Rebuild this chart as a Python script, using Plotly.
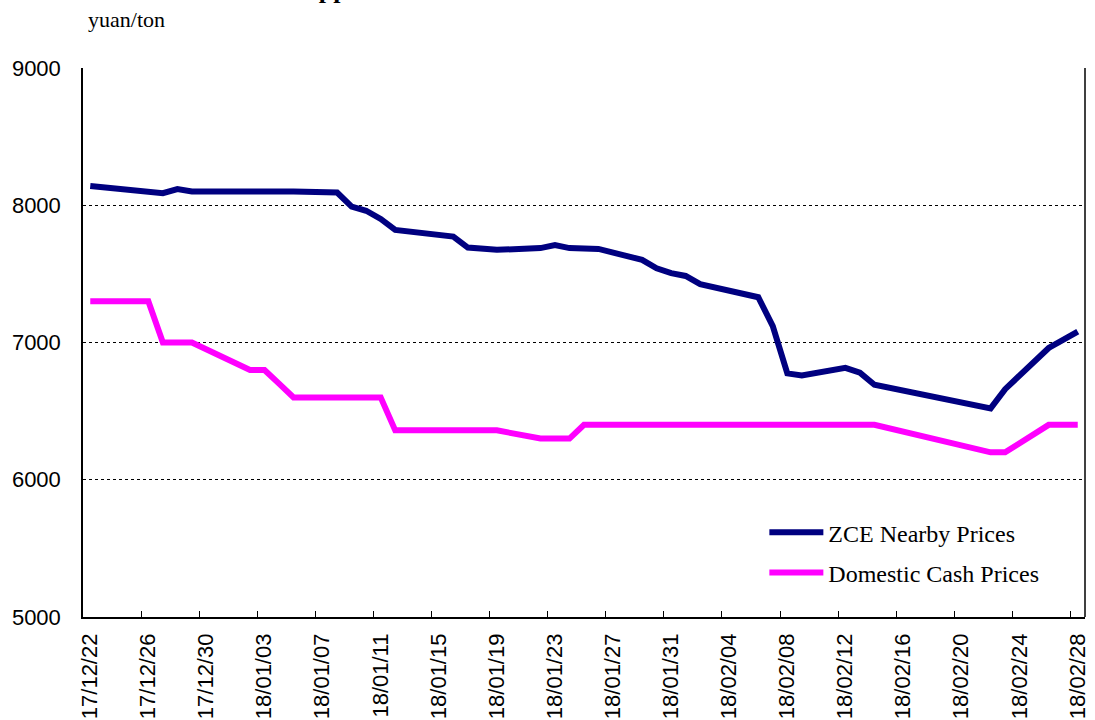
import pandas as pd
import plotly.graph_objects as go

# trading days shown on the chart
dates = [
    "2017-12-22", "2017-12-25", "2017-12-26", "2017-12-27", "2017-12-28", "2017-12-29",
    "2018-01-02", "2018-01-03", "2018-01-04", "2018-01-05",
    "2018-01-08", "2018-01-09", "2018-01-10", "2018-01-11", "2018-01-12",
    "2018-01-15", "2018-01-16", "2018-01-17", "2018-01-18", "2018-01-19",
    "2018-01-22", "2018-01-23", "2018-01-24", "2018-01-25", "2018-01-26",
    "2018-01-29", "2018-01-30", "2018-01-31", "2018-02-01", "2018-02-02",
    "2018-02-05", "2018-02-06", "2018-02-07", "2018-02-08", "2018-02-09",
    "2018-02-12", "2018-02-13", "2018-02-14",
    "2018-02-22", "2018-02-23", "2018-02-26", "2018-02-27", "2018-02-28",
]

zce_prices = [
    8140, 8110, 8105, 8088, 8118, 8100,
    8100, 8102, 8100, 8100,
    8093, 7990, 7960, 7900, 7820,
    7780, 7772, 7692, 7688, 7675,
    7688, 7710, 7688, 7682, 7682,
    7602, 7541, 7505, 7485, 7425,
    7360, 7330, 7120, 6775, 6760,
    6815, 6780, 6692,
    6520, 6660, 6960, 7020, 7080,
]

cash_prices = [
    7300, 7300, 7300, 7000, 7000, 7000,
    6800, 6800, 6700, 6600,
    6600, 6600, 6600, 6600, 6360,
    6360, 6360, 6360, 6360, 6360,
    6300, 6300, 6300, 6400, 6400,
    6400, 6400, 6400, 6400, 6400,
    6400, 6400, 6400, 6400, 6400,
    6400, 6400, 6400,
    6200, 6200, 6400, 6400, 6400,
]

tick_dates = pd.date_range("2017-12-22", "2018-02-28", freq="4D")
tick_labels = [d.strftime("%y/%m/%d") for d in tick_dates]

# Excel-style date axis: each day is a slot, points sit mid-slot
x = pd.to_datetime(dates) + pd.Timedelta(hours=12)

fig = go.Figure()
fig.add_trace(go.Scatter(
    x=x, y=zce_prices, mode="lines", name="ZCE Nearby Prices",
    line=dict(color="#000080", width=6), legendgroup="a"
))
fig.add_trace(go.Scatter(
    x=x, y=cash_prices, mode="lines", name="Domestic Cash Prices",
    line=dict(color="#FF00FF", width=6), legendgroup="b"
))

fig.update_layout(
    width=1095, height=720,
    margin=dict(l=83, r=10, t=68, b=103),
    plot_bgcolor="white", paper_bgcolor="white",
    font=dict(family="Liberation Serif", color="black"),
    legend=dict(
        x=0.68, y=0.117, xanchor="left", yanchor="middle",
        font=dict(family="Liberation Serif", size=24),
        itemwidth=54, tracegroupgap=6, bgcolor="rgba(0,0,0,0)"
    ),
    xaxis=dict(
        range=["2017-12-22", "2018-03-01"], automargin=False,
        tickvals=tick_dates, ticktext=tick_labels,
        tickangle=-90, ticks="inside", ticklen=6, tickcolor="black",
        ticklabelshift=7, ticklabelstandoff=6,
        tickfont=dict(family="Liberation Sans", size=22),
        showgrid=False, showline=True, linecolor="black", linewidth=1.5,
        zeroline=False
    ),
    yaxis=dict(
        range=[5000, 9000], dtick=1000, tickformat="d", automargin=False,
        ticks="", ticklabelstandoff=16,
        tickfont=dict(family="Liberation Sans", size=22),
        showgrid=True, gridcolor="black", griddash="dot", gridwidth=1,
        showline=True, linecolor="black", linewidth=1.5, zeroline=False
    ),
)

# right border of the plot area
fig.add_shape(type="line", xref="paper", yref="paper", x0=1, x1=1, y0=0, y1=1,
              line=dict(color="black", width=1.5))

fig.add_annotation(text="yuan/ton", xref="paper", yref="paper",
                   x=0.003, y=1.089, xanchor="left", yanchor="middle",
                   showarrow=False, font=dict(family="Liberation Serif", size=22))

# title sits mostly above the visible area
fig.add_annotation(text="<b>Apple Futures and Cash Prices</b>", xref="paper", yref="paper",
                   x=0.215, y=1.113, xanchor="left", yanchor="bottom",
                   showarrow=False, font=dict(family="Liberation Serif", size=26))

fig.write_html("out.html", config={"displayModeBar": False},
               post_script="document.body.style.margin='0';")
